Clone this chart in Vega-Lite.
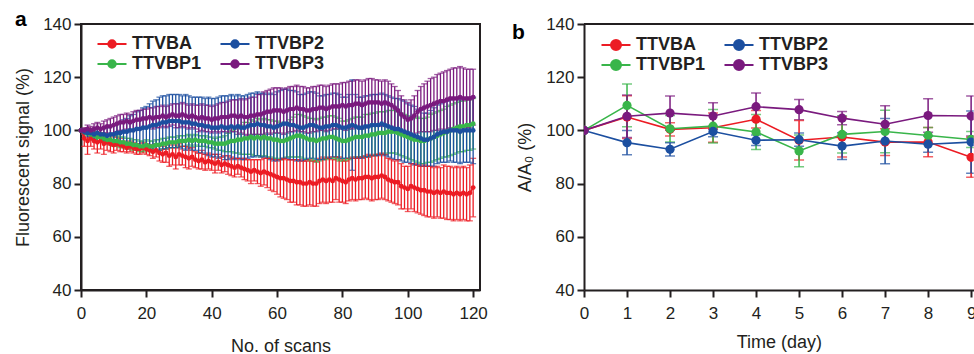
{
"$schema": "https://vega.github.io/schema/vega-lite/v6.json",
"background": "white",
"padding": {"left": 13, "top": 8, "right": 0, "bottom": 0},
"config": {
  "font": "Liberation Sans",
  "view": {"stroke": null},
  "axis": {"labelFont": "Liberation Sans", "titleFont": "Liberation Sans", "labelFontSize": 17, "titleFontSize": 18, "labelColor": "#231f20", "titleColor": "#231f20", "titleFontWeight": "normal", "domainColor": "#231f20", "tickColor": "#231f20", "domainWidth": 2, "tickWidth": 2, "tickSize": 7, "grid": false, "labelFlush": false},
  "legend": {"orient": "none", "columns": 2, "rowPadding": 0, "columnPadding": 14, "symbolSize": 400, "symbolStrokeWidth": 2, "symbolOpacity": 1, "labelFontSize": 18, "labelFontWeight": "bold", "labelFont": "Liberation Sans", "labelColor": "#231f20", "labelOffset": 9, "padding": 0, "title": null},
  "title": {"font": "Liberation Sans", "fontSize": 21, "fontWeight": "bold", "color": "#000000", "anchor": "start", "frame": "group"}
},
"datasets": {
"scan": [
{"s":"TTVBA","x":0,"y":100,"e":0},{"s":"TTVBA","x":1,"y":97,"e":3},{"s":"TTVBA","x":2,"y":96,"e":5},{"s":"TTVBA","x":3,"y":97,"e":3},{"s":"TTVBA","x":4,"y":96,"e":3},{"s":"TTVBA","x":5,"y":95.5,"e":4},{"s":"TTVBA","x":6,"y":96,"e":3},{"s":"TTVBA","x":7,"y":95,"e":4},{"s":"TTVBA","x":8,"y":95.5,"e":3},{"s":"TTVBA","x":9,"y":95,"e":3},
{"s":"TTVBA","x":10,"y":94.5,"e":3},{"s":"TTVBA","x":11,"y":95,"e":2.5},{"s":"TTVBA","x":12,"y":94.5,"e":2.5},{"s":"TTVBA","x":13,"y":94,"e":2},{"s":"TTVBA","x":14,"y":93.5,"e":2},{"s":"TTVBA","x":15,"y":94,"e":2},{"s":"TTVBA","x":16,"y":93.5,"e":2},{"s":"TTVBA","x":17,"y":93,"e":2},{"s":"TTVBA","x":18,"y":93,"e":2},{"s":"TTVBA","x":19,"y":93.5,"e":2},
{"s":"TTVBA","x":20,"y":93,"e":2},{"s":"TTVBA","x":21,"y":92.5,"e":2},{"s":"TTVBA","x":22,"y":92,"e":2.5},{"s":"TTVBA","x":23,"y":92.5,"e":2.5},{"s":"TTVBA","x":24,"y":91.5,"e":3},{"s":"TTVBA","x":25,"y":91,"e":3},{"s":"TTVBA","x":26,"y":91.5,"e":3.5},{"s":"TTVBA","x":27,"y":90.5,"e":4},{"s":"TTVBA","x":28,"y":91,"e":4},{"s":"TTVBA","x":29,"y":90,"e":4.5},
{"s":"TTVBA","x":30,"y":91,"e":4},{"s":"TTVBA","x":31,"y":90.5,"e":3.5},{"s":"TTVBA","x":32,"y":90,"e":4},{"s":"TTVBA","x":33,"y":89.5,"e":4},{"s":"TTVBA","x":34,"y":90,"e":3.5},{"s":"TTVBA","x":35,"y":89,"e":3},{"s":"TTVBA","x":36,"y":88.5,"e":3},{"s":"TTVBA","x":37,"y":89,"e":3.5},{"s":"TTVBA","x":38,"y":88,"e":3},{"s":"TTVBA","x":39,"y":88.5,"e":3},
{"s":"TTVBA","x":40,"y":88,"e":3},{"s":"TTVBA","x":41,"y":87.5,"e":3.5},{"s":"TTVBA","x":42,"y":88,"e":3},{"s":"TTVBA","x":43,"y":87,"e":3},{"s":"TTVBA","x":44,"y":87.5,"e":3},{"s":"TTVBA","x":45,"y":87,"e":3.5},{"s":"TTVBA","x":46,"y":86.5,"e":3.5},{"s":"TTVBA","x":47,"y":86,"e":3.5},{"s":"TTVBA","x":48,"y":86.5,"e":3},{"s":"TTVBA","x":49,"y":86,"e":3.5},
{"s":"TTVBA","x":50,"y":85.5,"e":4},{"s":"TTVBA","x":51,"y":85,"e":4},{"s":"TTVBA","x":52,"y":84.5,"e":4.5},{"s":"TTVBA","x":53,"y":85,"e":4},{"s":"TTVBA","x":54,"y":84.5,"e":4.5},{"s":"TTVBA","x":55,"y":84,"e":5},{"s":"TTVBA","x":56,"y":84.5,"e":5},{"s":"TTVBA","x":57,"y":84,"e":5.5},{"s":"TTVBA","x":58,"y":83.5,"e":6},{"s":"TTVBA","x":59,"y":83,"e":6},
{"s":"TTVBA","x":60,"y":82.5,"e":6.5},{"s":"TTVBA","x":61,"y":82,"e":7},{"s":"TTVBA","x":62,"y":82,"e":7.5},{"s":"TTVBA","x":63,"y":81.5,"e":7.5},{"s":"TTVBA","x":64,"y":81,"e":8},{"s":"TTVBA","x":65,"y":81,"e":8},{"s":"TTVBA","x":66,"y":80.5,"e":8.5},{"s":"TTVBA","x":67,"y":80.5,"e":8.5},{"s":"TTVBA","x":68,"y":80,"e":8.5},{"s":"TTVBA","x":69,"y":80,"e":8.5},
{"s":"TTVBA","x":70,"y":80.5,"e":8.5},{"s":"TTVBA","x":71,"y":80,"e":8.5},{"s":"TTVBA","x":72,"y":80,"e":8.5},{"s":"TTVBA","x":73,"y":81,"e":8.5},{"s":"TTVBA","x":74,"y":81.5,"e":8.5},{"s":"TTVBA","x":75,"y":81,"e":8.5},{"s":"TTVBA","x":76,"y":81.5,"e":8.5},{"s":"TTVBA","x":77,"y":81,"e":8},{"s":"TTVBA","x":78,"y":82,"e":8},{"s":"TTVBA","x":79,"y":81.5,"e":8.5},
{"s":"TTVBA","x":80,"y":81,"e":8},{"s":"TTVBA","x":81,"y":80.5,"e":8},{"s":"TTVBA","x":82,"y":81.5,"e":8},{"s":"TTVBA","x":83,"y":82,"e":8},{"s":"TTVBA","x":84,"y":81.5,"e":8},{"s":"TTVBA","x":85,"y":82,"e":8},{"s":"TTVBA","x":86,"y":82,"e":8},{"s":"TTVBA","x":87,"y":82.5,"e":8},{"s":"TTVBA","x":88,"y":82.5,"e":8.5},{"s":"TTVBA","x":89,"y":82,"e":8.5},
{"s":"TTVBA","x":90,"y":82.5,"e":8.5},{"s":"TTVBA","x":91,"y":82.5,"e":8.5},{"s":"TTVBA","x":92,"y":83,"e":8.5},{"s":"TTVBA","x":93,"y":82.5,"e":8.5},{"s":"TTVBA","x":94,"y":81.5,"e":8},{"s":"TTVBA","x":95,"y":81,"e":8},{"s":"TTVBA","x":96,"y":80.5,"e":8},{"s":"TTVBA","x":97,"y":80.5,"e":8.5},{"s":"TTVBA","x":98,"y":79,"e":8.5},{"s":"TTVBA","x":99,"y":78.5,"e":8},
{"s":"TTVBA","x":100,"y":78,"e":8.5},{"s":"TTVBA","x":101,"y":79,"e":8.5},{"s":"TTVBA","x":102,"y":78.5,"e":9},{"s":"TTVBA","x":103,"y":78,"e":9},{"s":"TTVBA","x":104,"y":77.5,"e":9},{"s":"TTVBA","x":105,"y":77.5,"e":9.5},{"s":"TTVBA","x":106,"y":77,"e":9.5},{"s":"TTVBA","x":107,"y":77,"e":9.5},{"s":"TTVBA","x":108,"y":76.5,"e":9.5},{"s":"TTVBA","x":109,"y":77,"e":9.5},
{"s":"TTVBA","x":110,"y":76.5,"e":9.5},{"s":"TTVBA","x":111,"y":77,"e":10},{"s":"TTVBA","x":112,"y":76.5,"e":10},{"s":"TTVBA","x":113,"y":76.5,"e":10},{"s":"TTVBA","x":114,"y":76,"e":10},{"s":"TTVBA","x":115,"y":76.5,"e":10},{"s":"TTVBA","x":116,"y":76,"e":10},{"s":"TTVBA","x":117,"y":76.5,"e":10},{"s":"TTVBA","x":118,"y":76,"e":10},{"s":"TTVBA","x":119,"y":76.5,"e":10.5},
{"s":"TTVBA","x":120,"y":78.5,"e":11},
{"s":"TTVBP1","x":0,"y":100,"e":0},{"s":"TTVBP1","x":1,"y":99.5,"e":1},{"s":"TTVBP1","x":2,"y":99,"e":1},{"s":"TTVBP1","x":3,"y":98.5,"e":1.5},{"s":"TTVBP1","x":4,"y":98,"e":1.5},{"s":"TTVBP1","x":5,"y":97.5,"e":1.5},{"s":"TTVBP1","x":6,"y":97.5,"e":1.5},{"s":"TTVBP1","x":7,"y":97,"e":1.5},{"s":"TTVBP1","x":8,"y":96.5,"e":1.5},{"s":"TTVBP1","x":9,"y":96.5,"e":2},
{"s":"TTVBP1","x":10,"y":96,"e":2},{"s":"TTVBP1","x":11,"y":96,"e":2},{"s":"TTVBP1","x":12,"y":95.5,"e":2},{"s":"TTVBP1","x":13,"y":95.5,"e":2},{"s":"TTVBP1","x":14,"y":95,"e":2},{"s":"TTVBP1","x":15,"y":95,"e":2},{"s":"TTVBP1","x":16,"y":94.5,"e":2},{"s":"TTVBP1","x":17,"y":94.5,"e":2},{"s":"TTVBP1","x":18,"y":94,"e":2},{"s":"TTVBP1","x":19,"y":94,"e":2},
{"s":"TTVBP1","x":20,"y":94.5,"e":2},{"s":"TTVBP1","x":21,"y":94,"e":2},{"s":"TTVBP1","x":22,"y":94,"e":2},{"s":"TTVBP1","x":23,"y":94.5,"e":2},{"s":"TTVBP1","x":24,"y":94.5,"e":2},{"s":"TTVBP1","x":25,"y":95,"e":2},{"s":"TTVBP1","x":26,"y":95,"e":2},{"s":"TTVBP1","x":27,"y":95.5,"e":2},{"s":"TTVBP1","x":28,"y":95.5,"e":2},{"s":"TTVBP1","x":29,"y":95.5,"e":2},
{"s":"TTVBP1","x":30,"y":96,"e":2},{"s":"TTVBP1","x":31,"y":96,"e":2},{"s":"TTVBP1","x":32,"y":96,"e":2},{"s":"TTVBP1","x":33,"y":96.5,"e":2},{"s":"TTVBP1","x":34,"y":96,"e":2},{"s":"TTVBP1","x":35,"y":96.5,"e":2},{"s":"TTVBP1","x":36,"y":96,"e":2},{"s":"TTVBP1","x":37,"y":96,"e":2},{"s":"TTVBP1","x":38,"y":96,"e":2},{"s":"TTVBP1","x":39,"y":95.5,"e":2},
{"s":"TTVBP1","x":40,"y":95.5,"e":2},{"s":"TTVBP1","x":41,"y":95,"e":2},{"s":"TTVBP1","x":42,"y":95,"e":2.5},{"s":"TTVBP1","x":43,"y":95,"e":2.5},{"s":"TTVBP1","x":44,"y":95,"e":3},{"s":"TTVBP1","x":45,"y":95.5,"e":3.5},{"s":"TTVBP1","x":46,"y":96,"e":4},{"s":"TTVBP1","x":47,"y":96,"e":4.5},{"s":"TTVBP1","x":48,"y":96.5,"e":5},{"s":"TTVBP1","x":49,"y":96.5,"e":5.5},
{"s":"TTVBP1","x":50,"y":97,"e":6},{"s":"TTVBP1","x":51,"y":97,"e":6},{"s":"TTVBP1","x":52,"y":97.5,"e":6.5},{"s":"TTVBP1","x":53,"y":97,"e":6.5},{"s":"TTVBP1","x":54,"y":97.5,"e":7},{"s":"TTVBP1","x":55,"y":97,"e":7},{"s":"TTVBP1","x":56,"y":97.5,"e":7},{"s":"TTVBP1","x":57,"y":97,"e":7},{"s":"TTVBP1","x":58,"y":97,"e":7},{"s":"TTVBP1","x":59,"y":96.5,"e":7},
{"s":"TTVBP1","x":60,"y":96.5,"e":7},{"s":"TTVBP1","x":61,"y":96,"e":7},{"s":"TTVBP1","x":62,"y":96,"e":6.5},{"s":"TTVBP1","x":63,"y":96.5,"e":6.5},{"s":"TTVBP1","x":64,"y":97,"e":7},{"s":"TTVBP1","x":65,"y":97.5,"e":7.5},{"s":"TTVBP1","x":66,"y":98,"e":8},{"s":"TTVBP1","x":67,"y":98,"e":8},{"s":"TTVBP1","x":68,"y":97.5,"e":8},{"s":"TTVBP1","x":69,"y":97,"e":8},
{"s":"TTVBP1","x":70,"y":96.5,"e":8},{"s":"TTVBP1","x":71,"y":96.5,"e":8},{"s":"TTVBP1","x":72,"y":96,"e":8},{"s":"TTVBP1","x":73,"y":96.5,"e":8},{"s":"TTVBP1","x":74,"y":97,"e":8},{"s":"TTVBP1","x":75,"y":97,"e":8},{"s":"TTVBP1","x":76,"y":97.5,"e":8},{"s":"TTVBP1","x":77,"y":97.5,"e":8},{"s":"TTVBP1","x":78,"y":97,"e":8},{"s":"TTVBP1","x":79,"y":96.5,"e":8},
{"s":"TTVBP1","x":80,"y":96,"e":7.5},{"s":"TTVBP1","x":81,"y":96,"e":7.5},{"s":"TTVBP1","x":82,"y":96.5,"e":7.5},{"s":"TTVBP1","x":83,"y":97,"e":7.5},{"s":"TTVBP1","x":84,"y":97.5,"e":7.5},{"s":"TTVBP1","x":85,"y":97.5,"e":7.5},{"s":"TTVBP1","x":86,"y":97.5,"e":7.5},{"s":"TTVBP1","x":87,"y":98,"e":8},{"s":"TTVBP1","x":88,"y":98,"e":8},{"s":"TTVBP1","x":89,"y":98.5,"e":8},
{"s":"TTVBP1","x":90,"y":98.5,"e":8},{"s":"TTVBP1","x":91,"y":99,"e":8},{"s":"TTVBP1","x":92,"y":99,"e":8},{"s":"TTVBP1","x":93,"y":99,"e":8},{"s":"TTVBP1","x":94,"y":99.5,"e":8},{"s":"TTVBP1","x":95,"y":99.5,"e":8},{"s":"TTVBP1","x":96,"y":99.5,"e":8},{"s":"TTVBP1","x":97,"y":99,"e":8},{"s":"TTVBP1","x":98,"y":98.5,"e":8},{"s":"TTVBP1","x":99,"y":98,"e":8},
{"s":"TTVBP1","x":100,"y":97.5,"e":8},{"s":"TTVBP1","x":101,"y":97,"e":8},{"s":"TTVBP1","x":102,"y":96.5,"e":8},{"s":"TTVBP1","x":103,"y":96.5,"e":8.5},{"s":"TTVBP1","x":104,"y":96,"e":8.5},{"s":"TTVBP1","x":105,"y":96,"e":8.5},{"s":"TTVBP1","x":106,"y":96.5,"e":8.5},{"s":"TTVBP1","x":107,"y":97,"e":9},{"s":"TTVBP1","x":108,"y":97.5,"e":9},{"s":"TTVBP1","x":109,"y":98,"e":9},
{"s":"TTVBP1","x":110,"y":98.5,"e":9},{"s":"TTVBP1","x":111,"y":99,"e":9},{"s":"TTVBP1","x":112,"y":99.5,"e":9.5},{"s":"TTVBP1","x":113,"y":100,"e":9.5},{"s":"TTVBP1","x":114,"y":100.5,"e":9.5},{"s":"TTVBP1","x":115,"y":101,"e":9.5},{"s":"TTVBP1","x":116,"y":101.5,"e":9.5},{"s":"TTVBP1","x":117,"y":101.5,"e":9.5},{"s":"TTVBP1","x":118,"y":102,"e":9.5},{"s":"TTVBP1","x":119,"y":102,"e":9.5},
{"s":"TTVBP1","x":120,"y":102.5,"e":9.5},
{"s":"TTVBP2","x":0,"y":100,"e":0},{"s":"TTVBP2","x":1,"y":99.5,"e":1},{"s":"TTVBP2","x":2,"y":99,"e":1.5},{"s":"TTVBP2","x":3,"y":99,"e":1.5},{"s":"TTVBP2","x":4,"y":98.5,"e":2},{"s":"TTVBP2","x":5,"y":99,"e":2},{"s":"TTVBP2","x":6,"y":98.5,"e":2.5},{"s":"TTVBP2","x":7,"y":98.5,"e":2.5},{"s":"TTVBP2","x":8,"y":98,"e":3},{"s":"TTVBP2","x":9,"y":98.5,"e":3},
{"s":"TTVBP2","x":10,"y":98.5,"e":3.5},{"s":"TTVBP2","x":11,"y":99,"e":3.5},{"s":"TTVBP2","x":12,"y":99,"e":4},{"s":"TTVBP2","x":13,"y":99.5,"e":4.5},{"s":"TTVBP2","x":14,"y":99.5,"e":5},{"s":"TTVBP2","x":15,"y":100,"e":5.5},{"s":"TTVBP2","x":16,"y":100,"e":6},{"s":"TTVBP2","x":17,"y":100.5,"e":6.5},{"s":"TTVBP2","x":18,"y":100.5,"e":7},{"s":"TTVBP2","x":19,"y":101,"e":7.5},
{"s":"TTVBP2","x":20,"y":101,"e":8},{"s":"TTVBP2","x":21,"y":101.5,"e":8.5},{"s":"TTVBP2","x":22,"y":102,"e":9},{"s":"TTVBP2","x":23,"y":102,"e":9.5},{"s":"TTVBP2","x":24,"y":102.5,"e":10},{"s":"TTVBP2","x":25,"y":103,"e":10},{"s":"TTVBP2","x":26,"y":103,"e":10},{"s":"TTVBP2","x":27,"y":103.5,"e":10},{"s":"TTVBP2","x":28,"y":103.5,"e":10},{"s":"TTVBP2","x":29,"y":103.5,"e":10},
{"s":"TTVBP2","x":30,"y":103.5,"e":10},{"s":"TTVBP2","x":31,"y":103,"e":10},{"s":"TTVBP2","x":32,"y":103,"e":10.5},{"s":"TTVBP2","x":33,"y":103,"e":10},{"s":"TTVBP2","x":34,"y":102.5,"e":10},{"s":"TTVBP2","x":35,"y":102.5,"e":10},{"s":"TTVBP2","x":36,"y":102,"e":10.5},{"s":"TTVBP2","x":37,"y":102,"e":10.5},{"s":"TTVBP2","x":38,"y":101.5,"e":10.5},{"s":"TTVBP2","x":39,"y":101.5,"e":11},
{"s":"TTVBP2","x":40,"y":101,"e":11},{"s":"TTVBP2","x":41,"y":101,"e":11},{"s":"TTVBP2","x":42,"y":101,"e":11.5},{"s":"TTVBP2","x":43,"y":101.5,"e":11.5},{"s":"TTVBP2","x":44,"y":101,"e":12},{"s":"TTVBP2","x":45,"y":101,"e":12},{"s":"TTVBP2","x":46,"y":101.5,"e":12},{"s":"TTVBP2","x":47,"y":101,"e":12},{"s":"TTVBP2","x":48,"y":101.5,"e":12},{"s":"TTVBP2","x":49,"y":101,"e":12},
{"s":"TTVBP2","x":50,"y":101,"e":12},{"s":"TTVBP2","x":51,"y":101.5,"e":12},{"s":"TTVBP2","x":52,"y":102,"e":12},{"s":"TTVBP2","x":53,"y":102,"e":12},{"s":"TTVBP2","x":54,"y":102.5,"e":12},{"s":"TTVBP2","x":55,"y":102,"e":12},{"s":"TTVBP2","x":56,"y":102,"e":12},{"s":"TTVBP2","x":57,"y":101.5,"e":12},{"s":"TTVBP2","x":58,"y":101.5,"e":12.5},{"s":"TTVBP2","x":59,"y":101,"e":12.5},
{"s":"TTVBP2","x":60,"y":101.5,"e":13},{"s":"TTVBP2","x":61,"y":102,"e":13},{"s":"TTVBP2","x":62,"y":102.5,"e":13},{"s":"TTVBP2","x":63,"y":102.5,"e":13},{"s":"TTVBP2","x":64,"y":102,"e":13},{"s":"TTVBP2","x":65,"y":102,"e":13},{"s":"TTVBP2","x":66,"y":101.5,"e":13},{"s":"TTVBP2","x":67,"y":101,"e":12.5},{"s":"TTVBP2","x":68,"y":101,"e":12.5},{"s":"TTVBP2","x":69,"y":101.5,"e":12.5},
{"s":"TTVBP2","x":70,"y":102,"e":12.5},{"s":"TTVBP2","x":71,"y":102,"e":12.5},{"s":"TTVBP2","x":72,"y":101.5,"e":12.5},{"s":"TTVBP2","x":73,"y":101,"e":12},{"s":"TTVBP2","x":74,"y":101,"e":12},{"s":"TTVBP2","x":75,"y":101.5,"e":12},{"s":"TTVBP2","x":76,"y":101.5,"e":12},{"s":"TTVBP2","x":77,"y":102,"e":12},{"s":"TTVBP2","x":78,"y":102,"e":12},{"s":"TTVBP2","x":79,"y":101.5,"e":12},
{"s":"TTVBP2","x":80,"y":101,"e":11.5},{"s":"TTVBP2","x":81,"y":101,"e":11.5},{"s":"TTVBP2","x":82,"y":101.5,"e":12},{"s":"TTVBP2","x":83,"y":102,"e":17},{"s":"TTVBP2","x":84,"y":101.5,"e":12},{"s":"TTVBP2","x":85,"y":101,"e":11.5},{"s":"TTVBP2","x":86,"y":101,"e":11.5},{"s":"TTVBP2","x":87,"y":101.5,"e":11.5},{"s":"TTVBP2","x":88,"y":101.5,"e":11.5},{"s":"TTVBP2","x":89,"y":102,"e":11.5},
{"s":"TTVBP2","x":90,"y":102,"e":11.5},{"s":"TTVBP2","x":91,"y":102,"e":11.5},{"s":"TTVBP2","x":92,"y":102.5,"e":11.5},{"s":"TTVBP2","x":93,"y":102,"e":11.5},{"s":"TTVBP2","x":94,"y":101.5,"e":11.5},{"s":"TTVBP2","x":95,"y":101,"e":11.5},{"s":"TTVBP2","x":96,"y":100.5,"e":11.5},{"s":"TTVBP2","x":97,"y":100.5,"e":11.5},{"s":"TTVBP2","x":98,"y":100,"e":11.5},{"s":"TTVBP2","x":99,"y":99.5,"e":11.5},
{"s":"TTVBP2","x":100,"y":99,"e":11},{"s":"TTVBP2","x":101,"y":98.5,"e":11},{"s":"TTVBP2","x":102,"y":98,"e":11},{"s":"TTVBP2","x":103,"y":97.5,"e":10.5},{"s":"TTVBP2","x":104,"y":97,"e":10.5},{"s":"TTVBP2","x":105,"y":96.5,"e":10},{"s":"TTVBP2","x":106,"y":96.5,"e":10},{"s":"TTVBP2","x":107,"y":97,"e":10.5},{"s":"TTVBP2","x":108,"y":97.5,"e":11},{"s":"TTVBP2","x":109,"y":98.5,"e":11},
{"s":"TTVBP2","x":110,"y":99,"e":11},{"s":"TTVBP2","x":111,"y":99.5,"e":11.5},{"s":"TTVBP2","x":112,"y":99.5,"e":11.5},{"s":"TTVBP2","x":113,"y":100,"e":11.5},{"s":"TTVBP2","x":114,"y":100,"e":12},{"s":"TTVBP2","x":115,"y":100,"e":12},{"s":"TTVBP2","x":116,"y":99.5,"e":12},{"s":"TTVBP2","x":117,"y":100,"e":12},{"s":"TTVBP2","x":118,"y":100,"e":12},{"s":"TTVBP2","x":119,"y":100,"e":12},
{"s":"TTVBP2","x":120,"y":100,"e":12.5},
{"s":"TTVBP3","x":0,"y":100,"e":0},{"s":"TTVBP3","x":1,"y":100,"e":1},{"s":"TTVBP3","x":2,"y":100.5,"e":1.5},{"s":"TTVBP3","x":3,"y":100,"e":1.5},{"s":"TTVBP3","x":4,"y":100.5,"e":2},{"s":"TTVBP3","x":5,"y":101,"e":2},{"s":"TTVBP3","x":6,"y":100.5,"e":2},{"s":"TTVBP3","x":7,"y":101,"e":2.5},{"s":"TTVBP3","x":8,"y":101.5,"e":2.5},{"s":"TTVBP3","x":9,"y":101.5,"e":3},
{"s":"TTVBP3","x":10,"y":102,"e":3},{"s":"TTVBP3","x":11,"y":102.5,"e":3},{"s":"TTVBP3","x":12,"y":103,"e":3},{"s":"TTVBP3","x":13,"y":103,"e":3},{"s":"TTVBP3","x":14,"y":103.5,"e":3},{"s":"TTVBP3","x":15,"y":103,"e":3},{"s":"TTVBP3","x":16,"y":103.5,"e":3.5},{"s":"TTVBP3","x":17,"y":104,"e":3.5},{"s":"TTVBP3","x":18,"y":104,"e":3.5},{"s":"TTVBP3","x":19,"y":104.5,"e":3.5},
{"s":"TTVBP3","x":20,"y":104.5,"e":3.5},{"s":"TTVBP3","x":21,"y":105,"e":3.5},{"s":"TTVBP3","x":22,"y":104.5,"e":4},{"s":"TTVBP3","x":23,"y":105,"e":4},{"s":"TTVBP3","x":24,"y":105,"e":4},{"s":"TTVBP3","x":25,"y":105.5,"e":4},{"s":"TTVBP3","x":26,"y":105,"e":4},{"s":"TTVBP3","x":27,"y":105.5,"e":4},{"s":"TTVBP3","x":28,"y":106,"e":4},{"s":"TTVBP3","x":29,"y":105.5,"e":4.5},
{"s":"TTVBP3","x":30,"y":105.5,"e":4.5},{"s":"TTVBP3","x":31,"y":106,"e":4.5},{"s":"TTVBP3","x":32,"y":105.5,"e":4.5},{"s":"TTVBP3","x":33,"y":105,"e":4.5},{"s":"TTVBP3","x":34,"y":105.5,"e":4.5},{"s":"TTVBP3","x":35,"y":105,"e":4.5},{"s":"TTVBP3","x":36,"y":104.5,"e":5},{"s":"TTVBP3","x":37,"y":105,"e":5},{"s":"TTVBP3","x":38,"y":104.5,"e":5},{"s":"TTVBP3","x":39,"y":104.5,"e":5},
{"s":"TTVBP3","x":40,"y":104,"e":5},{"s":"TTVBP3","x":41,"y":104.5,"e":5},{"s":"TTVBP3","x":42,"y":104.5,"e":5.5},{"s":"TTVBP3","x":43,"y":105,"e":5.5},{"s":"TTVBP3","x":44,"y":105,"e":5.5},{"s":"TTVBP3","x":45,"y":105,"e":6},{"s":"TTVBP3","x":46,"y":105.5,"e":6},{"s":"TTVBP3","x":47,"y":105.5,"e":6},{"s":"TTVBP3","x":48,"y":105,"e":6.5},{"s":"TTVBP3","x":49,"y":105.5,"e":6.5},
{"s":"TTVBP3","x":50,"y":105,"e":6.5},{"s":"TTVBP3","x":51,"y":105,"e":7},{"s":"TTVBP3","x":52,"y":105.5,"e":7},{"s":"TTVBP3","x":53,"y":105.5,"e":7},{"s":"TTVBP3","x":54,"y":106,"e":7.5},{"s":"TTVBP3","x":55,"y":106,"e":7.5},{"s":"TTVBP3","x":56,"y":106.5,"e":8},{"s":"TTVBP3","x":57,"y":107,"e":8},{"s":"TTVBP3","x":58,"y":107,"e":8.5},{"s":"TTVBP3","x":59,"y":107.5,"e":8.5},
{"s":"TTVBP3","x":60,"y":107.5,"e":8.5},{"s":"TTVBP3","x":61,"y":107.5,"e":8.5},{"s":"TTVBP3","x":62,"y":107,"e":8.5},{"s":"TTVBP3","x":63,"y":107.5,"e":8.5},{"s":"TTVBP3","x":64,"y":108,"e":8.5},{"s":"TTVBP3","x":65,"y":108,"e":8.5},{"s":"TTVBP3","x":66,"y":108.5,"e":8.5},{"s":"TTVBP3","x":67,"y":108,"e":8.5},{"s":"TTVBP3","x":68,"y":108,"e":8.5},{"s":"TTVBP3","x":69,"y":107.5,"e":8.5},
{"s":"TTVBP3","x":70,"y":107.5,"e":8.5},{"s":"TTVBP3","x":71,"y":108,"e":8.5},{"s":"TTVBP3","x":72,"y":108,"e":8.5},{"s":"TTVBP3","x":73,"y":108.5,"e":8.5},{"s":"TTVBP3","x":74,"y":108.5,"e":8.5},{"s":"TTVBP3","x":75,"y":108,"e":8.5},{"s":"TTVBP3","x":76,"y":108.5,"e":8.5},{"s":"TTVBP3","x":77,"y":109,"e":8.5},{"s":"TTVBP3","x":78,"y":109,"e":8.5},{"s":"TTVBP3","x":79,"y":109,"e":8.5},
{"s":"TTVBP3","x":80,"y":109.5,"e":8.5},{"s":"TTVBP3","x":81,"y":109,"e":9},{"s":"TTVBP3","x":82,"y":109.5,"e":9},{"s":"TTVBP3","x":83,"y":109.5,"e":9},{"s":"TTVBP3","x":84,"y":110,"e":9},{"s":"TTVBP3","x":85,"y":110,"e":9},{"s":"TTVBP3","x":86,"y":109.5,"e":9},{"s":"TTVBP3","x":87,"y":110,"e":9},{"s":"TTVBP3","x":88,"y":110.5,"e":9},{"s":"TTVBP3","x":89,"y":110.5,"e":9},
{"s":"TTVBP3","x":90,"y":110.5,"e":8.5},{"s":"TTVBP3","x":91,"y":110.5,"e":8.5},{"s":"TTVBP3","x":92,"y":110,"e":8.5},{"s":"TTVBP3","x":93,"y":110.5,"e":8.5},{"s":"TTVBP3","x":94,"y":110,"e":8.5},{"s":"TTVBP3","x":95,"y":109.5,"e":8},{"s":"TTVBP3","x":96,"y":108.5,"e":8},{"s":"TTVBP3","x":97,"y":107.5,"e":7.5},{"s":"TTVBP3","x":98,"y":106,"e":7},{"s":"TTVBP3","x":99,"y":105,"e":6.5},
{"s":"TTVBP3","x":100,"y":104,"e":6.5},{"s":"TTVBP3","x":101,"y":104.5,"e":7},{"s":"TTVBP3","x":102,"y":105.5,"e":7.5},{"s":"TTVBP3","x":103,"y":107,"e":8},{"s":"TTVBP3","x":104,"y":108,"e":8.5},{"s":"TTVBP3","x":105,"y":108.5,"e":9},{"s":"TTVBP3","x":106,"y":109,"e":9.5},{"s":"TTVBP3","x":107,"y":109.5,"e":10},{"s":"TTVBP3","x":108,"y":110,"e":10},{"s":"TTVBP3","x":109,"y":110.5,"e":10.5},
{"s":"TTVBP3","x":110,"y":111,"e":10.5},{"s":"TTVBP3","x":111,"y":111,"e":11},{"s":"TTVBP3","x":112,"y":111.5,"e":11},{"s":"TTVBP3","x":113,"y":112,"e":11},{"s":"TTVBP3","x":114,"y":112,"e":11.5},{"s":"TTVBP3","x":115,"y":112,"e":11.5},{"s":"TTVBP3","x":116,"y":112.5,"e":11.5},{"s":"TTVBP3","x":117,"y":112,"e":11.5},{"s":"TTVBP3","x":118,"y":112,"e":11},{"s":"TTVBP3","x":119,"y":112,"e":11},
{"s":"TTVBP3","x":120,"y":112.5,"e":10.5}
],
"day": [
{"s":"TTVBA","x":0,"y":100,"e":0},{"s":"TTVBA","x":1,"y":105,"e":8},{"s":"TTVBA","x":2,"y":100.4,"e":2.5},{"s":"TTVBA","x":3,"y":101,"e":5.5},{"s":"TTVBA","x":4,"y":104.2,"e":3.3},{"s":"TTVBA","x":5,"y":96.3,"e":7.4},{"s":"TTVBA","x":6,"y":97.5,"e":7.5},{"s":"TTVBA","x":7,"y":95.6,"e":5},{"s":"TTVBA","x":8,"y":95.6,"e":5.5},{"s":"TTVBA","x":9,"y":89.9,"e":7.5},
{"s":"TTVBP1","x":0,"y":100,"e":0},{"s":"TTVBP1","x":1,"y":109.4,"e":8},{"s":"TTVBP1","x":2,"y":100.6,"e":5},{"s":"TTVBP1","x":3,"y":101.6,"e":6.3},{"s":"TTVBP1","x":4,"y":99.4,"e":6.6},{"s":"TTVBP1","x":5,"y":92.3,"e":6},{"s":"TTVBP1","x":6,"y":98.5,"e":7},{"s":"TTVBP1","x":7,"y":99.6,"e":8},{"s":"TTVBP1","x":8,"y":98.1,"e":3},{"s":"TTVBP1","x":9,"y":96.6,"e":3},
{"s":"TTVBP2","x":0,"y":100,"e":0},{"s":"TTVBP2","x":1,"y":95.4,"e":4.6},{"s":"TTVBP2","x":2,"y":92.9,"e":2.5},{"s":"TTVBP2","x":3,"y":99.6,"e":2},{"s":"TTVBP2","x":4,"y":96.3,"e":2},{"s":"TTVBP2","x":5,"y":96.5,"e":2.5},{"s":"TTVBP2","x":6,"y":94.1,"e":5},{"s":"TTVBP2","x":7,"y":96,"e":8.5},{"s":"TTVBP2","x":8,"y":94.8,"e":3},{"s":"TTVBP2","x":9,"y":95.6,"e":11.7},
{"s":"TTVBP3","x":0,"y":100,"e":0},{"s":"TTVBP3","x":1,"y":105.3,"e":8},{"s":"TTVBP3","x":2,"y":106.5,"e":6.4},{"s":"TTVBP3","x":3,"y":105.4,"e":5},{"s":"TTVBP3","x":4,"y":108.9,"e":5.2},{"s":"TTVBP3","x":5,"y":107.8,"e":3.8},{"s":"TTVBP3","x":6,"y":104.6,"e":2.5},{"s":"TTVBP3","x":7,"y":102.3,"e":7},{"s":"TTVBP3","x":8,"y":105.6,"e":6.3},{"s":"TTVBP3","x":9,"y":105.4,"e":7.5}
],
"frame": [{"y": 140}]
},
"hconcat": [
  {
    "width": 399, "height": 266,
    "view": {"stroke": "#231f20", "strokeWidth": 2},
    "title": {"text": "a", "dx": -66, "offset": -14, "dy": 18, "baseline": "alphabetic"},
    "data": {"name": "scan"},
    "encoding": {
      "x": {"field": "x", "type": "quantitative", "scale": {"domain": [0, 122.1], "nice": false, "zero": false}, "axis": {"values": [0, 20, 40, 60, 80, 100, 120], "title": "No. of scans", "labelPadding": 8, "titlePadding": 16}},
      "y": {"field": "y", "type": "quantitative", "scale": {"domain": [40, 140], "nice": false, "zero": false}, "axis": {"values": [40, 60, 80, 100, 120, 140], "title": "Fluorescent signal (%)", "labelPadding": 3, "titlePadding": 10}},
      "color": {"field": "s", "type": "nominal", "scale": {"domain": ["TTVBA", "TTVBP1", "TTVBP2", "TTVBP3"], "range": ["#ec1c24", "#39b54a", "#1c4fa0", "#7a1a7e"]},
        "legend": {"legendX": 20, "legendY": 9, "symbolType": "M-1.45,0H1.45M-0.37,0A0.37,0.37,0,1,1,0.37,0A0.37,0.37,0,1,1,-0.37,0Z"}}
    },
    "layer": [
      {"mark": {"type": "errorbar", "ticks": {"size": 6, "thickness": 1.3}, "thickness": 1.3}, "encoding": {"yError": {"field": "e"}}},
      {"mark": {"type": "line", "strokeWidth": 1.6}},
      {"mark": {"type": "circle", "size": 24, "opacity": 1}}
    ]
  },
  {
    "width": 389.7, "height": 266,
    "view": {"stroke": null},
    "title": {"text": "b", "dx": -72, "offset": -14, "dy": 31, "baseline": "alphabetic"},
    "layer": [
      {
        "data": {"name": "day"},
        "encoding": {
          "x": {"field": "x", "type": "quantitative", "scale": {"domain": [0, 9.06], "nice": false, "zero": false}, "axis": {"values": [0, 1, 2, 3, 4, 5, 6, 7, 8, 9], "title": "Time (day)", "labelPadding": 8, "titlePadding": 12}},
          "y": {"field": "y", "type": "quantitative", "scale": {"domain": [40, 140], "nice": false, "zero": false}, "axis": {"values": [40, 60, 80, 100, 120, 140], "title": "A/A₀ (%)", "labelPadding": 3, "titlePadding": 11}},
          "color": {"field": "s", "type": "nominal", "scale": {"domain": ["TTVBA", "TTVBP1", "TTVBP2", "TTVBP3"], "range": ["#ec1c24", "#39b54a", "#1c4fa0", "#7a1a7e"]},
            "legend": {"legendX": 21, "legendY": 10, "symbolType": "M-1.45,0H1.45M-0.5,0A0.5,0.5,0,1,1,0.5,0A0.5,0.5,0,1,1,-0.5,0Z"}}
        },
        "layer": [
          {"mark": {"type": "errorbar", "ticks": {"size": 10, "thickness": 1.5}, "thickness": 1.5, "clip": true}, "encoding": {"yError": {"field": "e"}}},
          {"mark": {"type": "line", "strokeWidth": 1.6, "clip": true}},
          {"mark": {"type": "circle", "size": 85, "opacity": 1, "clip": true}}
        ]
      },
      {
        "data": {"name": "frame"},
        "mark": {"type": "rule", "color": "#231f20", "strokeWidth": 2},
        "encoding": {"y": {"field": "y", "type": "quantitative"}}
      }
    ]
  }
],
"spacing": 104,
"bounds": "flush",
"resolve": {"scale": {"color": "independent", "x": "independent", "y": "independent"}, "legend": {"color": "independent"}}
}
